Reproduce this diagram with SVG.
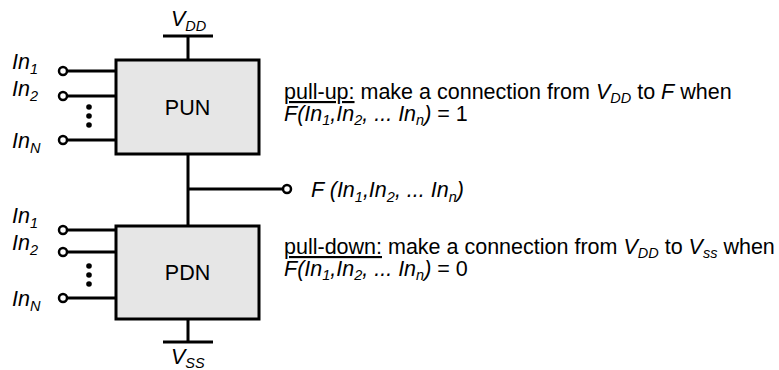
<svg xmlns="http://www.w3.org/2000/svg" width="779" height="370" viewBox="0 0 779 370">
<style>
text{font-family:"Liberation Sans",Arial,sans-serif;font-size:21.5px;fill:#000}
.it{font-style:italic}
.sub{font-size:14.5px}
.box{fill:#e6e6e6;stroke:#000;stroke-width:3}
.w{stroke:#000;stroke-width:3;fill:none}
.pin{fill:#fff;stroke:#000;stroke-width:2.5}
.dot{fill:#000}
</style>
<g id="connectors">
<path class="w" d="M188 36V60M163 36H213"/>
<path class="w" d="M188 154V226M188 189H283"/>
<path class="w" d="M188 319V342M163 342H213"/>
<path class="w" d="M67 71H116M67 96H116M67 140H116"/>
<path class="w" d="M67 230H116M67 252H116M67 298H116"/>
</g>
<g id="PUN">
<rect class="box" x="116" y="60" width="143" height="94"/>
<text x="187.5" y="115" text-anchor="middle">PUN</text>
</g>
<g id="PDN">
<rect class="box" x="116" y="226" width="143" height="93"/>
<text x="187.5" y="280" text-anchor="middle">PDN</text>
</g>
<g id="VDD"><text class="it" x="171" y="26">V<tspan class="sub" dy="5">DD</tspan></text></g>
<g id="VSS"><text class="it" x="171" y="364">V<tspan class="sub" dy="4">SS</tspan></text></g>
<g id="pun-inputs">
<circle class="pin" cx="63" cy="71" r="4"/>
<circle class="pin" cx="63" cy="96" r="4"/>
<circle class="pin" cx="63" cy="140" r="4"/>
<circle class="dot" cx="89" cy="107" r="2.8"/>
<circle class="dot" cx="89" cy="116" r="2.8"/>
<circle class="dot" cx="89" cy="125" r="2.8"/>
<text class="it" x="12" y="69">In<tspan class="sub" dy="5">1</tspan></text>
<text class="it" x="12" y="96">In<tspan class="sub" dy="5">2</tspan></text>
<text class="it" x="12" y="148">In<tspan class="sub" dy="5">N</tspan></text>
</g>
<g id="pdn-inputs">
<circle class="pin" cx="63" cy="230" r="4"/>
<circle class="pin" cx="63" cy="252" r="4"/>
<circle class="pin" cx="63" cy="298" r="4"/>
<circle class="dot" cx="89" cy="266" r="2.8"/>
<circle class="dot" cx="89" cy="275" r="2.8"/>
<circle class="dot" cx="89" cy="284" r="2.8"/>
<text class="it" x="12" y="223">In<tspan class="sub" dy="5">1</tspan></text>
<text class="it" x="12" y="250">In<tspan class="sub" dy="5">2</tspan></text>
<text class="it" x="12" y="306">In<tspan class="sub" dy="5">N</tspan></text>
</g>
<g id="F-out">
<circle class="pin" cx="287" cy="189" r="4"/>
<text class="it" x="311" y="197">F (In<tspan class="sub" dy="5">1</tspan><tspan dy="-5">,In</tspan><tspan class="sub" dy="5">2</tspan><tspan dy="-5">, ... In</tspan><tspan class="sub" dy="5">n</tspan><tspan dy="-5">)</tspan></text>
</g>
<g id="pull-up-note">
<text x="284" y="99"><tspan text-decoration="underline">pull-up:</tspan> make a connection from <tspan class="it">V</tspan><tspan class="it sub" dy="4">DD</tspan><tspan dy="-4"> to </tspan><tspan class="it">F</tspan> when</text>
<text x="284" y="121"><tspan class="it">F(In</tspan><tspan class="it sub" dy="4">1</tspan><tspan class="it" dy="-4">,In</tspan><tspan class="it sub" dy="4">2</tspan><tspan class="it" dy="-4">, ... In</tspan><tspan class="it sub" dy="4">n</tspan><tspan class="it" dy="-4">)</tspan> = 1</text>
</g>
<g id="pull-down-note">
<text x="284" y="254"><tspan text-decoration="underline">pull-down:</tspan> make a connection from <tspan class="it">V</tspan><tspan class="it sub" dy="4">DD</tspan><tspan dy="-4"> to </tspan><tspan class="it">V</tspan><tspan class="it sub" dy="4">ss</tspan><tspan dy="-4"> when</tspan></text>
<text x="284" y="276"><tspan class="it">F(In</tspan><tspan class="it sub" dy="4">1</tspan><tspan class="it" dy="-4">,In</tspan><tspan class="it sub" dy="4">2</tspan><tspan class="it" dy="-4">, ... In</tspan><tspan class="it sub" dy="4">n</tspan><tspan class="it" dy="-4">)</tspan> = 0</text>
</g>
</svg>
